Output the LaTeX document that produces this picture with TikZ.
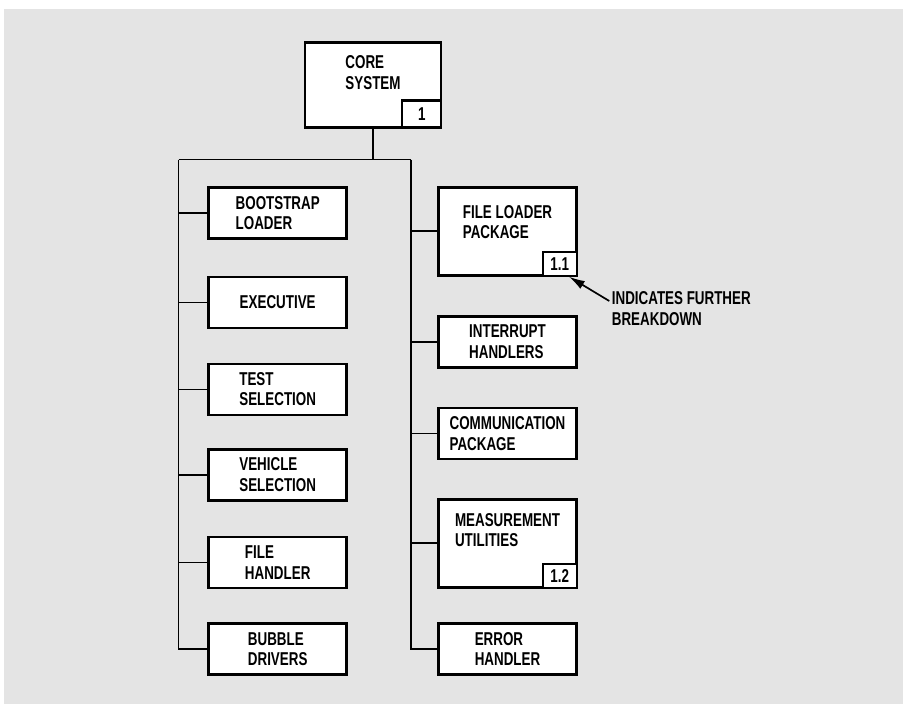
\documentclass[tikz,border=0pt]{standalone}
\usepackage{fontspec}
\newfontfamily\chartfont[FakeStretch=0.72]{Liberation Sans}
\usetikzlibrary{arrows.meta, positioning}
\definecolor{paperFill}{HTML}{E4E4E4}
\tikzset{
  chart/.style = {
    font=\chartfont\bfseries\fontsize{18.6}{20.3}\selectfont,
  },
  unit/.style = {
    rectangle, draw=black, line width=2.8pt, fill=white,
    minimum width=138pt, minimum height=51pt, align=left, inner sep=0pt,
  },
  bigunit/.style = {
    unit, minimum height=88pt,
  },
  numbox/.style = {
    rectangle, draw=black, line width=2.2pt, fill=white, anchor=south east,
    minimum width=34pt, minimum height=24pt, inner sep=0pt,
  },
  txt/.style = {align=left, inner sep=0pt},
  link/.style = {line width=1.7pt, draw=black},
  note/.style = {link, -{Latex[length=16pt, width=9pt]}},
}

\begin{document}
\begin{tikzpicture}[chart, x=1pt, y=-1pt]

\fill[white] (0,0) rectangle (903,704);
\fill[paperFill] (4,9) rectangle (903,704);
\useasboundingbox (0,0) rectangle (903,704);

\node[bigunit, minimum width=136pt, minimum height=85pt] (core) at (373,84.6) {};
\node[txt, below=15pt of core.north] (coret) {CORE\\SYSTEM};
\node[numbox, minimum width=39pt, minimum height=27pt] (core1) at (core.south east) {1};

\node[unit] (boot) at (277.7,212.9) {BOOTSTRAP\\LOADER};
\node[unit] (exec) at (277.7,302.4) {EXECUTIVE};
\node[unit] (test) at (277.7,389.4) {TEST\\SELECTION};
\node[unit] (veh)  at (277.7,474.7) {VEHICLE\\SELECTION};
\node[unit] (fhan) at (277.7,562.5) {FILE\\HANDLER};
\node[unit] (bub)  at (277.7,649.1) {BUBBLE\\DRIVERS};

\node[bigunit] (flp)  at (507.5,231.3) {};
\node[txt, below=19pt of flp.north] (flpt) {FILE LOADER\\PACKAGE};
\node[numbox] (flp1)  at (flp.south east) {1.1};
\node[unit] (int)     at (507.5,341.8) {INTERRUPT\\HANDLERS};
\node[unit] (comm)    at (507.5,433.5) {COMMUNICATION\\PACKAGE};
\node[bigunit] (meas) at (507.5,543.3) {};
\node[txt, below=15pt of meas.north] (meast) {MEASUREMENT\\UTILITIES};
\node[numbox] (meas1) at (meas.south east) {1.2};
\node[unit] (err)     at (507.5,648.9) {ERROR\\HANDLER};

\node[txt, anchor=north west, font=\chartfont\bfseries\fontsize{18.6}{21}\selectfont]
  (note) at (611.7,291.7) {INDICATES FURTHER\\BREAKDOWN};

% tree lines
\coordinate (ltop) at (178.6,159.5);
\coordinate (rtop) at (410.7,159.5);
\coordinate (tail) at (609.3,301);

\draw[link] (core.south) -- (core.south |- ltop);
\draw[link] (ltop) -- (rtop);
\draw[link] (ltop) |- (bub.west);
\draw[link] (rtop) |- (err.west);
\draw[link] (boot.west) -- (boot.west -| ltop);
\draw[link] (exec.west) -- (exec.west -| ltop);
\draw[link] (test.west) -- (test.west -| ltop);
\draw[link] (veh.west) -- (veh.west -| ltop);
\draw[link] (fhan.west) -- (fhan.west -| ltop);
\draw[link] (flp.west) -- (flp.west -| rtop);
\draw[link] (int.west) -- (int.west -| rtop);
\draw[link] (comm.west) -- (comm.west -| rtop);
\draw[link] (meas.west) -- (meas.west -| rtop);

% pointer to the breakdown box
\draw[note] (tail) -- ([xshift=-9pt]flp1.south east);

\end{tikzpicture}
\end{document}
